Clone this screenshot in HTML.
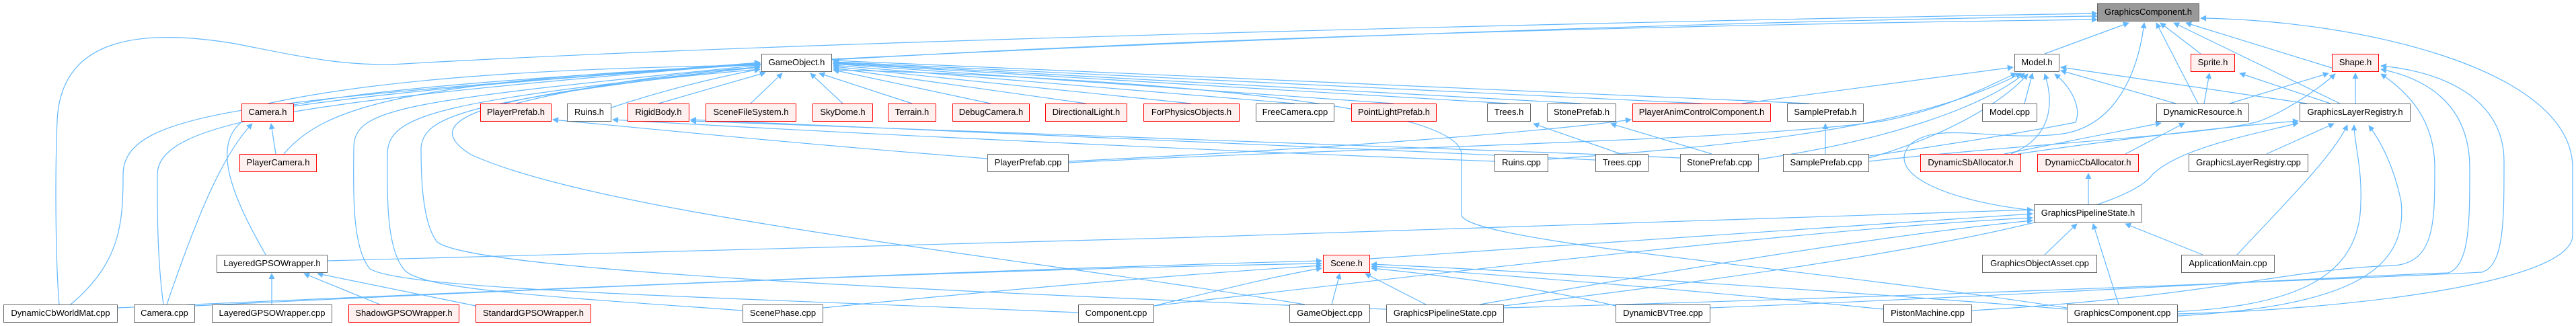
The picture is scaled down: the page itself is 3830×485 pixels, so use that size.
<!DOCTYPE html>
<html><head><meta charset="utf-8"><style>
html,body{margin:0;padding:0;background:#fff;}
#c{position:relative;width:3830px;height:485px;overflow:hidden;font-family:"Liberation Sans",Arial,sans-serif;}
svg{position:absolute;left:0;top:0;}
.n{position:absolute;height:27px;box-sizing:border-box;border:1.5px solid #666;background:#fff;font-size:13px;line-height:24px;text-align:center;white-space:nowrap;color:#000;}
.r{border-color:#f00;background:#fff0f0;}
.g{background:#999;}
</style></head><body><div id="c">
<svg width="3830" height="485" viewBox="0 0 3830 485">
<defs><marker id="a" viewBox="0 0 10 10" refX="9" refY="5" markerWidth="9" markerHeight="9" orient="auto" markerUnits="userSpaceOnUse"><path d="M0,0L10,5L0,10z" fill="#63b8ff"/></marker></defs>
<g fill="none" stroke="#63b8ff" stroke-width="1.2" marker-end="url(#a)">
<path d="M1237,88 C1800,60 2600,30 3118,24"/>
<path d="M88,453 C82,380 82,250 85,180 C90,60 200,40 350,65 C450,85 520,100 600,95 C1200,60 2500,30 3118,20"/>
<path d="M437,158 C700,120 1500,50 3118,29"/>
<path d="M3040,80 L3165,34"/>
<path d="M3272,80 L3212,34"/>
<path d="M3467,101 L3250,34"/>
<path d="M3268,154 L3206,34"/>
<path d="M3479,154 L3232,34"/>
<path d="M3238,467 C3500,460 3825,420 3825,350 L3825,250 C3825,100 3500,30 3272,27"/>
<path d="M3024,313 C2900,300 2800,260 2840,215 C2880,180 2960,210 3060,200 C3150,190 3180,100 3188,34"/>
<path d="M398,154 C600,110 900,100 1130,97"/>
<path d="M767,154 C900,120 1050,105 1130,100"/>
<path d="M909,160 C1000,130 1080,112 1130,103"/>
<path d="M979,154 L1138,108"/>
<path d="M1116,154 L1163,109"/>
<path d="M1253,154 L1205,109"/>
<path d="M1356,154 L1218,109"/>
<path d="M1473,154 L1239,104"/>
<path d="M1615,154 L1239,101"/>
<path d="M1771,154 L1239,99"/>
<path d="M1925,154 L1239,97"/>
<path d="M2072,154 L1239,95"/>
<path d="M2243,154 L1239,94"/>
<path d="M2351,154 L1239,93"/>
<path d="M2530,154 L1239,92"/>
<path d="M2690,154 L1239,90"/>
<path d="M422,229 C480,160 600,120 1130,96"/>
<path d="M105,453 C180,390 183,330 183,260 C183,160 400,150 1130,93"/>
<path d="M243,453 C233,380 234,300 234,260 C234,180 450,150 1130,94"/>
<path d="M395,379 C350,300 300,200 380,170 C500,130 900,110 1130,95"/>
<path d="M1603,465 C1000,440 600,430 550,400 C525,370 525,300 526,220 C526,160 600,150 1130,97"/>
<path d="M1104,462 C800,440 620,430 600,400 C576,370 575,300 576,230 C576,170 650,150 1130,100"/>
<path d="M2061,460 C1300,430 700,400 650,360 C626,330 626,250 626,220 C630,170 700,150 1130,99"/>
<path d="M1940,453 C1500,380 900,320 700,230 C620,180 700,140 1130,103"/>
<path d="M3073,458 C2700,400 2180,360 2173,320 L2173,230 C2173,140 1500,110 1239,104"/>
<path d="M2590,154 L2993,100"/>
<path d="M3010,154 L3022,109"/>
<path d="M1589,242 C2000,220 2600,210 2800,180 C2900,160 2950,130 2998,109"/>
<path d="M2302,237 C2600,215 2850,190 3005,109"/>
<path d="M2615,237 C2800,210 2950,160 3010,109"/>
<path d="M2779,235 C2900,200 2980,150 3015,110"/>
<path d="M2990,229 C3060,200 3050,140 3040,110"/>
<path d="M2779,232 C2900,215 3020,195 3086,182 C3095,160 3080,130 3055,110"/>
<path d="M3235,154 L3064,105"/>
<path d="M3430,154 L3064,100"/>
<path d="M3277,154 L3285,109"/>
<path d="M3465,154 L3330,109"/>
<path d="M3315,154 L3462,109"/>
<path d="M3502,154 L3502,109"/>
<path d="M2779,240 C3000,215 3300,200 3360,180 C3400,165 3450,130 3472,110"/>
<path d="M2932,462 C3300,440 3400,400 3560,395 C3620,390 3620,330 3620,250 C3620,170 3570,130 3540,110"/>
<path d="M2543,458 C3000,440 3500,410 3640,406 C3672,395 3672,330 3672,250 C3672,150 3600,115 3540,103"/>
<path d="M2236,458 C2900,440 3600,410 3690,405 C3723,395 3723,330 3723,240 C3723,140 3620,105 3540,98"/>
<path d="M3370,229 L3470,184"/>
<path d="M3326,379 C3400,300 3470,230 3490,186"/>
<path d="M3200,465 C3400,460 3510,420 3510,300 C3512,250 3500,210 3500,186"/>
<path d="M3238,470 C3500,455 3580,400 3570,300 C3560,250 3540,210 3522,187"/>
<path d="M2236,455 C2700,400 3150,330 3200,260 C3240,220 3350,200 3417,183"/>
<path d="M3000,229 C3200,200 3350,185 3417,180"/>
<path d="M2980,229 L3213,183"/>
<path d="M3160,229 L3248,183"/>
<path d="M3105,304 L3105,258"/>
<path d="M3040,379 L3088,333"/>
<path d="M3150,453 L3112,333"/>
<path d="M3275,379 L3160,333"/>
<path d="M2037,385 C2400,360 2800,330 3022,318"/>
<path d="M487,388 C1000,380 2500,330 3022,312"/>
<path d="M2200,453 C2500,400 2800,350 3022,328"/>
<path d="M1716,455 C2200,400 2700,340 3022,324"/>
<path d="M175,458 C800,430 1500,400 1965,388"/>
<path d="M290,455 C900,425 1500,400 1965,392"/>
<path d="M1224,458 C1500,430 1800,405 1965,395"/>
<path d="M1716,455 C1820,430 1900,410 1965,399"/>
<path d="M1980,453 L1992,407"/>
<path d="M2120,453 L2030,407"/>
<path d="M2402,455 C2300,430 2150,410 2039,399"/>
<path d="M2800,460 C2500,430 2250,410 2039,396"/>
<path d="M3073,460 C2700,430 2300,405 2039,393"/>
<path d="M404,453 L404,407"/>
<path d="M565,453 L452,407"/>
<path d="M707,455 L472,407"/>
<path d="M410,229 L403,184"/>
<path d="M248,453 C290,330 330,230 375,184"/>
<path d="M1468,236 C1200,215 1000,195 822,178"/>
<path d="M2222,240 C1700,220 1200,195 911,178"/>
<path d="M2372,238 C1900,215 1400,195 1027,178"/>
<path d="M2498,235 C2000,212 1500,195 1027,180"/>
<path d="M2410,229 L2280,184"/>
<path d="M2545,229 L2395,184"/>
<path d="M2714,229 L2714,184"/>
<path d="M1589,240 C2000,220 2300,195 2425,178"/>
</g></svg>
<div class="n g" style="left:3118px;top:5px;width:152px">GraphicsComponent.h</div>
<div class="n" style="left:1132px;top:80px;width:105px">GameObject.h</div>
<div class="n" style="left:2995px;top:80px;width:67px">Model.h</div>
<div class="n r" style="left:3257px;top:80px;width:66px">Sprite.h</div>
<div class="n r" style="left:3467px;top:80px;width:70px">Shape.h</div>
<div class="n r" style="left:359px;top:154px;width:78px">Camera.h</div>
<div class="n r" style="left:714px;top:154px;width:106px">PlayerPrefab.h</div>
<div class="n" style="left:843px;top:154px;width:66px">Ruins.h</div>
<div class="n r" style="left:933px;top:154px;width:92px">RigidBody.h</div>
<div class="n r" style="left:1049px;top:154px;width:135px">SceneFileSystem.h</div>
<div class="n r" style="left:1208px;top:154px;width:90px">SkyDome.h</div>
<div class="n r" style="left:1320px;top:154px;width:72px">Terrain.h</div>
<div class="n r" style="left:1416px;top:154px;width:115px">DebugCamera.h</div>
<div class="n r" style="left:1554px;top:154px;width:122px">DirectionalLight.h</div>
<div class="n r" style="left:1700px;top:154px;width:143px">ForPhysicsObjects.h</div>
<div class="n" style="left:1867px;top:154px;width:117px">FreeCamera.cpp</div>
<div class="n r" style="left:2009px;top:154px;width:127px">PointLightPrefab.h</div>
<div class="n" style="left:2211px;top:154px;width:65px">Trees.h</div>
<div class="n" style="left:2300px;top:154px;width:103px">StonePrefab.h</div>
<div class="n r" style="left:2427px;top:154px;width:206px">PlayerAnimControlComponent.h</div>
<div class="n" style="left:2657px;top:154px;width:114px">SamplePrefab.h</div>
<div class="n" style="left:2947px;top:154px;width:82px">Model.cpp</div>
<div class="n" style="left:3206px;top:154px;width:138px">DynamicResource.h</div>
<div class="n" style="left:3419px;top:154px;width:165px">GraphicsLayerRegistry.h</div>
<div class="n r" style="left:356px;top:229px;width:115px">PlayerCamera.h</div>
<div class="n" style="left:1468px;top:229px;width:121px">PlayerPrefab.cpp</div>
<div class="n" style="left:2222px;top:229px;width:80px">Ruins.cpp</div>
<div class="n" style="left:2372px;top:229px;width:79px">Trees.cpp</div>
<div class="n" style="left:2498px;top:229px;width:117px">StonePrefab.cpp</div>
<div class="n" style="left:2651px;top:229px;width:128px">SamplePrefab.cpp</div>
<div class="n r" style="left:2855px;top:229px;width:150px">DynamicSbAllocator.h</div>
<div class="n r" style="left:3029px;top:229px;width:151px">DynamicCbAllocator.h</div>
<div class="n" style="left:3254px;top:229px;width:178px">GraphicsLayerRegistry.cpp</div>
<div class="n" style="left:3024px;top:304px;width:161px">GraphicsPipelineState.h</div>
<div class="n" style="left:322px;top:379px;width:165px">LayeredGPSOWrapper.h</div>
<div class="n r" style="left:1967px;top:379px;width:70px">Scene.h</div>
<div class="n" style="left:2947px;top:379px;width:171px">GraphicsObjectAsset.cpp</div>
<div class="n" style="left:3243px;top:379px;width:139px">ApplicationMain.cpp</div>
<div class="n" style="left:5px;top:453px;width:170px">DynamicCbWorldMat.cpp</div>
<div class="n" style="left:199px;top:453px;width:91px">Camera.cpp</div>
<div class="n" style="left:315px;top:453px;width:179px">LayeredGPSOWrapper.cpp</div>
<div class="n r" style="left:518px;top:453px;width:165px">ShadowGPSOWrapper.h</div>
<div class="n r" style="left:707px;top:453px;width:172px">StandardGPSOWrapper.h</div>
<div class="n" style="left:1104px;top:453px;width:120px">ScenePhase.cpp</div>
<div class="n" style="left:1603px;top:453px;width:113px">Component.cpp</div>
<div class="n" style="left:1917px;top:453px;width:120px">GameObject.cpp</div>
<div class="n" style="left:2061px;top:453px;width:175px">GraphicsPipelineState.cpp</div>
<div class="n" style="left:2402px;top:453px;width:141px">DynamicBVTree.cpp</div>
<div class="n" style="left:2800px;top:453px;width:132px">PistonMachine.cpp</div>
<div class="n" style="left:3073px;top:453px;width:165px">GraphicsComponent.cpp</div>
</div></body></html>
